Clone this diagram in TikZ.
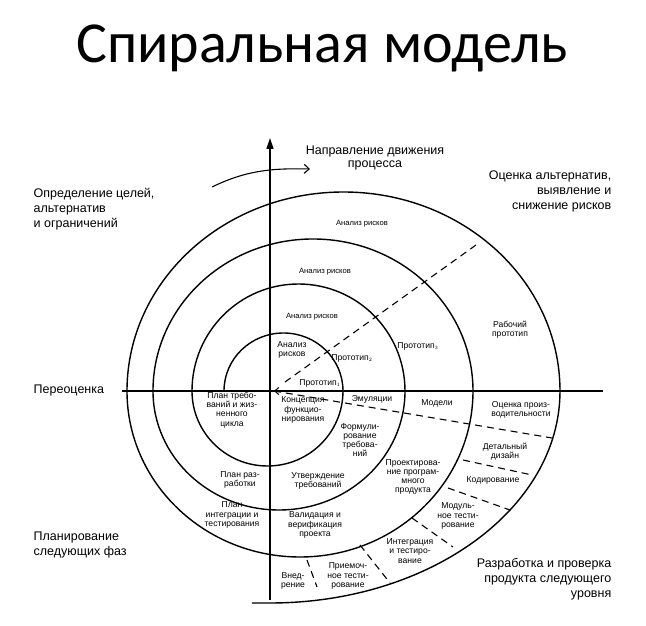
\documentclass[tikz,border=0pt]{standalone}
\usepackage{fontspec}
\setmainfont{Liberation Sans}
\newfontfamily\titlefont{Carlito}
\usetikzlibrary{positioning, arrows.meta}
\tikzset{
    small/.style={align=center, inner sep=0pt, font=\fontsize{8.6}{9.2}\selectfont},
    tiny/.style={align=center, inner sep=0pt, font=\fontsize{7.6}{8}\selectfont},
    big/.style={inner sep=0pt, font=\fontsize{12.5}{15}\selectfont},
    sep/.style={black, line width=1.1pt, dash pattern=on 7pt off 5pt}
}
\begin{document}
\begin{tikzpicture}[x=1pt, y=1pt, line width=1.4pt]
    \useasboundingbox[fill=white] (-270,-235) rectangle (376,391);

    % title
    \node (title) at (52,343) {\titlefont\fontsize{58}{62}\selectfont Спиральная модель};

    % axes
    \coordinate (vbot) at (0,-209);
    \coordinate (vtop) at (0,253);
    \coordinate (hl) at (-148,0);
    \coordinate (hr) at (333,0);
    \draw[-{Triangle[length=11pt,width=7pt]}] (vbot) -- (vtop);
    \draw (hl) -- (hr);

    % spiral
    \draw (-46,0) arc (180:0:59.5 and 58)
                  arc (0:-180:75.5 and 75)
                  arc (180:0:106.5 and 107)
                  arc (0:-180:126 and 119)
                  arc (180:0:160 and 152)
                  arc (0:-180:173 and 166)
                  arc (180:0:216.5 and 199)
                  arc (0:-90:290 and 212) -- ++(-18,0);

    % direction arrow
    \coordinate (dirS) at (-58,204);
    \coordinate (dirE) at (40,222);
    \draw[-{Straight Barb[length=5pt,width=9pt]}, line width=1.1pt]
        (dirS) .. controls (-25,220) and (0,223) .. (dirE);

    % dashed lines
    \coordinate (c0) at (4,0);
    \draw[sep] (15,9) -- (206,146);
    \draw[sep] (c0) -- (282,-47);
    \draw[-{Straight Barb[length=4pt,width=7pt]}, line width=1pt] (12,0) -- (c0);
    \foreach \s/\e in {
        {(193,-69)}/{(262,-84)},
        {(178,-97)}/{(240,-119)},
        {(142,-127)}/{(183,-156)},
        {(90,-154)}/{(120,-192)},
        {(37,-169)}/{(47,-196)}}
    {
        \draw[sep] \s -- \e;
    }

    % outer labels
    \node[big] (dir) at (105,233) {\shortstack{Направление движения\\процесса}};
    \node[big, anchor=north west, align=left] (goals) at (-237,203) {Определение целей,\\альтернатив\\и ограничений};
    \node[big, anchor=north east, align=right] (eval) at (342,221) {Оценка альтернатив,\\выявление и\\снижение рисков};
    \node[big, anchor=west] (reval) at (-237,0) {Переоценка};
    \node[big, anchor=north west, align=left] (plan) at (-237,-140) {Планирование\\следующих фаз};
    \node[big, anchor=north east, align=right] (dev) at (342,-167) {Разработка и проверка\\продукта следующего\\уровня};

    % inner labels
    \node[tiny] (risk1) at (92,167) {Анализ рисков};
    \node[tiny] (risk2) at (55,119) {Анализ рисков};
    \node[tiny] (risk3) at (42,74) {Анализ рисков};
    \node[small] (risk4) at (22,41) {Анализ\\рисков};
    \node[small] (proto1) at (50,8) {Прототип$_{\scriptscriptstyle 1}$};
    \node[small] (proto2) at (82,33) {Прототип$_{\scriptscriptstyle 2}$};
    \node[small] (proto3) at (148,45) {Прототип$_{\scriptscriptstyle 3}$};
    \node[small] (work) at (240,61) {Рабочий\\прототип};
    \node[small] (emul) at (102,-8) {Эмуляции};
    \node[small] (models) at (167,-12) {Модели};
    \node[small] (perf) at (251,-19) {Оценка произ-\\водительности};
    \node[small] (reqplan) at (-38,-19) {План требо-\\ваний и жиз-\\ненного\\цикла};
    \node[small] (concept) at (33,-19) {Концепция\\функцио-\\нирования};
    \node[small] (formul) at (90,-49) {Формули-\\рование\\требова-\\ний};
    \node[small] (design) at (143,-86) {Проектирова-\\ние програм-\\много\\продукта};
    \node[small] (detail) at (235,-61) {Детальный\\дизайн};
    \node[small] (coding) at (223,-89) {Кодирование};
    \node[small] (unit) at (188,-125) {Модуль-\\ное тести-\\рование};
    \node[small] (integr) at (140,-160) {Интеграция\\и тестиро-\\вание};
    \node[small] (accept) at (78,-185) {Приемоч-\\ное тести-\\рование};
    \node[small] (deploy) at (23,-190) {Внед-\\рение};
    \node[small] (devplan) at (-30,-89) {План раз-\\работки};
    \node[small] (approve) at (48,-90) {Утверждение\\требований};
    \node[small] (intplan) at (-38,-124) {План\\интеграции и\\тестирования};
    \node[small] (valid) at (45,-134) {Валидация и\\верификация\\проекта};
\end{tikzpicture}
\end{document}
